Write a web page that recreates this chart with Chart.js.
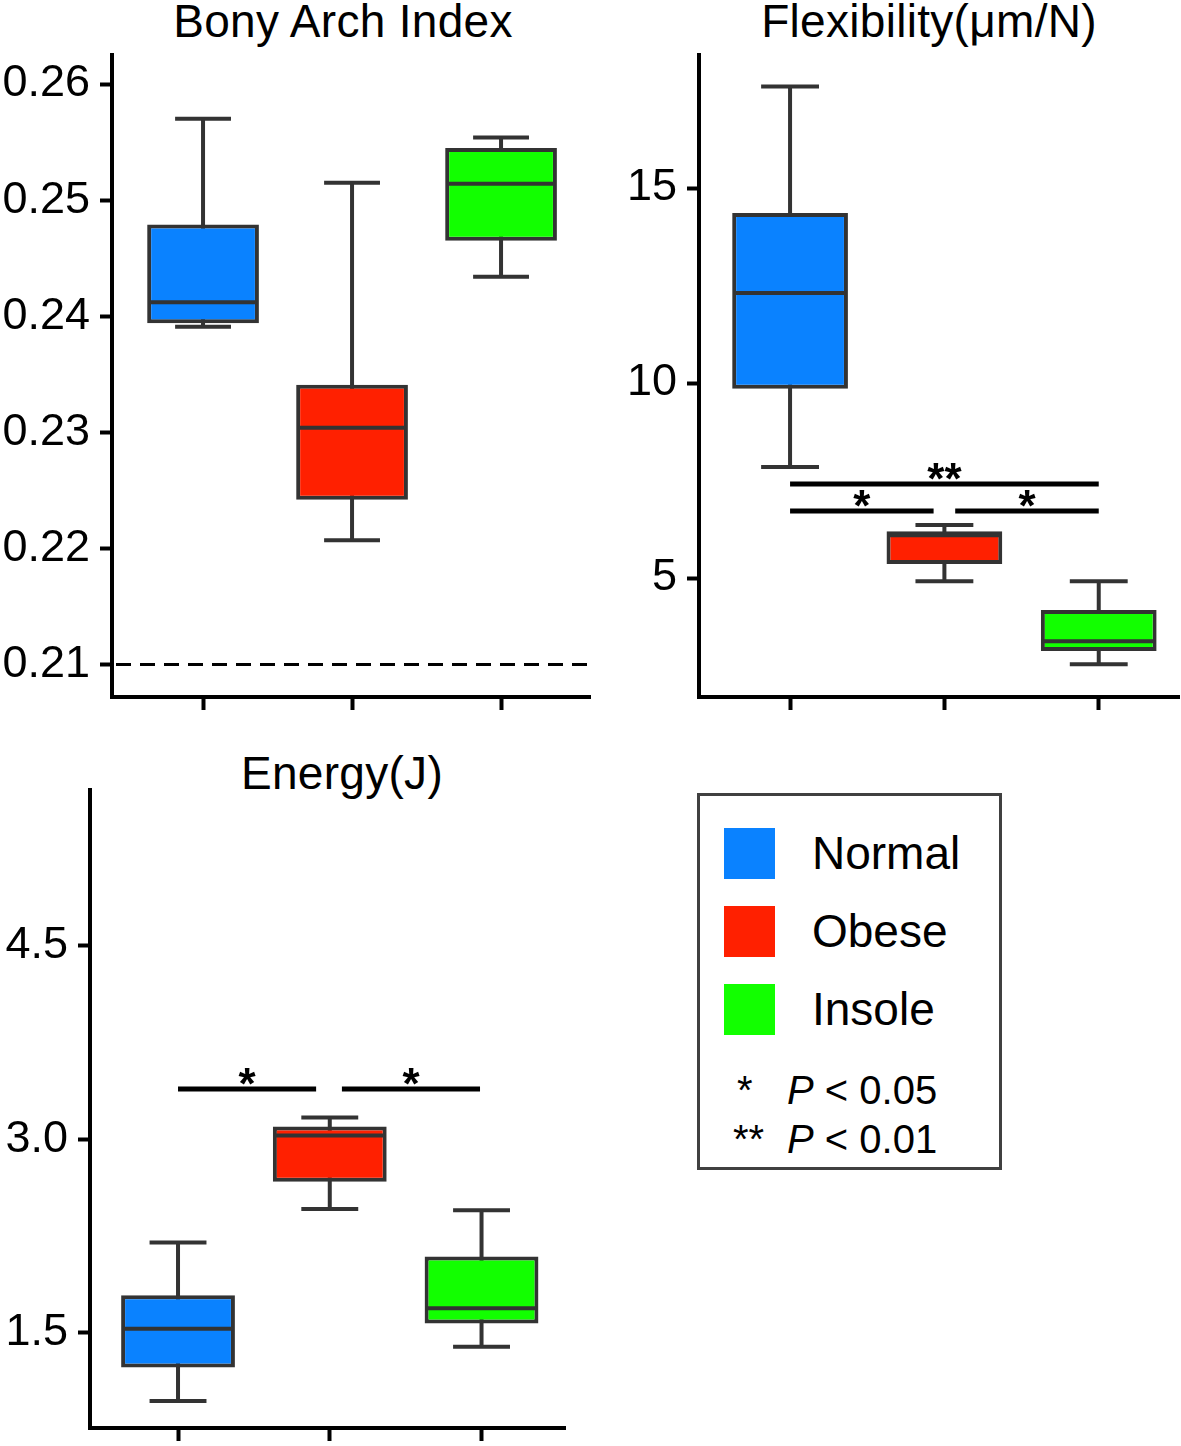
<!DOCTYPE html>
<html>
<head>
<meta charset="utf-8">
<script src="https://cdn.jsdelivr.net/npm/chart.js@4.4.1/dist/chart.umd.min.js"></script>
<style>
    html, body { margin: 0; padding: 0; width: 1181px; height: 1446px; overflow: hidden; background: #fff; }
    body { position: relative; font-family: 'Liberation Sans', Arial, sans-serif; color: #000; }
    canvas { position: absolute; }
    .title { position: absolute; font-size: 46px; letter-spacing: 0.3px; line-height: 46px; white-space: nowrap; transform: translateX(-50%); }
    #legend { position: absolute; left: 697px; top: 793px; width: 299px; height: 371px; border: 3px solid #404040; }
    .item { position: absolute; left: 24px; height: 51px; }
    .swatch { position: absolute; left: 0; top: 0; width: 51px; height: 51px; }
    .item span { position: absolute; left: 88px; top: 0; line-height: 51px; font-size: 46px; }
    .pnote { position: absolute; font-size: 40px; line-height: 40px; white-space: nowrap; }
    .pnote b { font-weight: normal; position: absolute; }
</style>
</head>
<body>
<div class="title" style="left:343px; top:-2px;">Bony Arch Index</div>
<div class="title" style="left:929px; top:-2px;">Flexibility(μm/N)</div>
<div class="title" style="left:342px; top:750px;">Energy(J)</div>

<canvas id="bony" width="594" height="722" style="left:0px; top:15px;"></canvas>
<canvas id="flex" width="581" height="722" style="left:600px; top:15px;"></canvas>
<canvas id="energy" width="568" height="718" style="left:0px; top:750px;"></canvas>

<div id="legend"></div>

<script>
// groups
const groups = ['Normal', 'Obese', 'Insole'];
const groupColors = ['#0a82ff', '#ff2000', '#12ff00'];

// Bony Arch Index
const biMin = [0.2391, 0.2207, 0.2434];
const biQ1 = [0.2394, 0.2242, 0.2465];
const biMed = [0.2412, 0.2304, 0.2514];
const biQ3 = [0.2479, 0.2341, 0.2545];
const biMax = [0.2570, 0.2515, 0.2554];
const biTicks = [0.21, 0.22, 0.23, 0.24, 0.25, 0.26];
const biRange = [0.2072, 0.2625];
const biRefLine = 0.21;

// Flexibility (um/N)
const fxMin = [7.85, 4.92, 2.79];
const fxQ1 = [9.85, 5.36, 3.13];
const fxMed = [12.31, 6.10, 3.38];
const fxQ3 = [14.36, 6.20, 4.18];
const fxMax = [17.6, 6.36, 4.92];
const fxTicks = [5, 10, 15];
const fxRange = [1.95, 18.41];
const fxSig = [
    { from: 1, to: 3, y: 7.41, label: '**' },
    { from: 1, to: 1.93, y: 6.72, label: '*' },
    { from: 2.07, to: 3, y: 6.72, label: '*' }
];

// Energy (J)
const enMin = [0.97, 2.46, 1.39];
const enQ1 = [1.23, 2.67, 1.57];
const enMed = [1.53, 3.03, 1.69];
const enQ3 = [1.79, 3.10, 2.09];
const enMax = [2.20, 3.17, 2.45];
const enTicks = [1.5, 3.0, 4.5];
const enRange = [0.76, 5.71];
const enSig = [
    { from: 1, to: 1.91, y: 3.39, label: '*' },
    { from: 2.08, to: 2.99, y: 3.39, label: '*' }
];

const FONT = "'Liberation Sans', Arial, sans-serif";
Chart.defaults.animation = false;

function boxPlugin(stats) {
    return {
        id: 'boxes',
        beforeDatasetsDraw(chart) {
            const { ctx, scales: { y } } = chart;
            const meta = chart.getDatasetMeta(0);
            ctx.save();
            ctx.strokeStyle = '#333333';
            ctx.lineWidth = 4;
            stats.lo.forEach((lo, i) => {
                const bar = meta.data[i];
                const cx = bar.x;
                const half = bar.width / 4;
                const yLo = y.getPixelForValue(lo);
                const yHi = y.getPixelForValue(stats.hi[i]);
                ctx.beginPath();
                ctx.moveTo(cx, yLo); ctx.lineTo(cx, yHi);
                ctx.moveTo(cx - half, yLo); ctx.lineTo(cx + half, yLo);
                ctx.moveTo(cx - half, yHi); ctx.lineTo(cx + half, yHi);
                ctx.stroke();
            });
            ctx.restore();
        },
        afterDatasetsDraw(chart) {
            const { ctx, chartArea, scales: { x, y } } = chart;
            const meta = chart.getDatasetMeta(0);
            ctx.save();
            // medians
            ctx.strokeStyle = '#333333';
            ctx.lineWidth = 4;
            stats.med.forEach((m, i) => {
                const bar = meta.data[i];
                const py = y.getPixelForValue(m);
                ctx.beginPath();
                ctx.moveTo(bar.x - bar.width / 2 + 2, py);
                ctx.lineTo(bar.x + bar.width / 2 - 2, py);
                ctx.stroke();
            });
            // dashed reference line
            if (stats.ref !== undefined) {
                const py = y.getPixelForValue(stats.ref);
                ctx.strokeStyle = '#000';
                ctx.lineWidth = 3;
                ctx.setLineDash([15, 9]);
                ctx.beginPath();
                ctx.moveTo(chartArea.left + 4, py);
                ctx.lineTo(chartArea.right, py);
                ctx.stroke();
                ctx.setLineDash([]);
            }
            // significance bars
            (stats.sig || []).forEach(s => {
                const x0 = x.getPixelForValue(s.from);
                const x1 = x.getPixelForValue(s.to);
                const py = y.getPixelForValue(s.y);
                ctx.strokeStyle = '#000';
                ctx.lineWidth = 5;
                ctx.beginPath();
                ctx.moveTo(x0, py);
                ctx.lineTo(x1, py);
                ctx.stroke();
                ctx.fillStyle = '#000';
                ctx.font = 'bold 44px ' + FONT;
                ctx.textAlign = 'center';
                ctx.textBaseline = 'alphabetic';
                ctx.fillText(s.label, (x0 + x1) / 2, py + 10);
            });
            ctx.restore();
        }
    };
}

function makePanel(id, p) {
    const ctx = document.getElementById(id).getContext('2d');
    return new Chart(ctx, {
        type: 'bar',
        data: {
            datasets: [{
                data: p.q1.map((v, i) => ({ x: i + 1, y: [v, p.q3[i]] })),
                backgroundColor: groupColors,
                borderColor: '#333333',
                borderWidth: 4,
                borderSkipped: false,
                barPercentage: 0.75,
                categoryPercentage: 1
            }]
        },
        options: {
            responsive: false,
            layout: { padding: { top: 40, right: p.padRight, bottom: 0, left: 0 } },
            plugins: { legend: { display: false }, tooltip: { enabled: false }, title: { display: false } },
            scales: {
                x: {
                    type: 'linear',
                    offset: false,
                    min: p.xRange[0],
                    max: p.xRange[1],
                    afterBuildTicks: axis => { axis.ticks = [1, 2, 3].map(v => ({ value: v })); },
                    afterFit: axis => { axis.height = 40; },
                    ticks: { display: false },
                    grid: { offset: false, drawOnChartArea: false, drawTicks: true, tickLength: 13, tickWidth: 4, tickColor: '#000' },
                    border: { display: true, color: '#000', width: 4 }
                },
                y: {
                    min: p.range[0],
                    max: p.range[1],
                    afterBuildTicks: axis => { axis.ticks = p.ticks.map(v => ({ value: v })); },
                    afterFit: axis => { axis.width = p.yWidth; },
                    ticks: {
                        color: '#000',
                        padding: 10,
                        font: { family: FONT, size: 45 },
                        callback: v => v.toFixed(p.decimals)
                    },
                    grid: { drawOnChartArea: false, drawTicks: true, tickLength: 12, tickWidth: 4, tickColor: '#000' },
                    border: { display: true, color: '#000', width: 4 }
                }
            }
        },
        plugins: [boxPlugin({ lo: p.min, hi: p.max, med: p.med, ref: p.ref, sig: p.sig })]
    });
}

makePanel('bony', {
    min: biMin, q1: biQ1, med: biMed, q3: biQ3, max: biMax,
    ticks: biTicks, range: biRange, decimals: 2, ref: biRefLine,
    xRange: [0.389, 3.597], yWidth: 112, padRight: 4
});

makePanel('flex', {
    min: fxMin, q1: fxQ1, med: fxMed, q3: fxQ3, max: fxMax,
    ticks: fxTicks, range: fxRange, decimals: 0, sig: fxSig,
    xRange: [0.41, 3.52], yWidth: 99, padRight: 2
});

makePanel('energy', {
    min: enMin, q1: enQ1, med: enMed, q3: enQ3, max: enMax,
    ticks: enTicks, range: enRange, decimals: 1, sig: enSig,
    xRange: [0.42, 3.55], yWidth: 90, padRight: 3
});

// legend box
const legend = document.getElementById('legend');
const itemTops = [32, 110, 188];
groups.forEach((g, i) => {
    const item = document.createElement('div');
    item.className = 'item';
    item.style.top = itemTops[i] + 'px';
    item.innerHTML = '<div class="swatch" style="background:' + groupColors[i] + '"></div><span>' + g + '</span>';
    legend.appendChild(item);
});
const notes = [['*', 'P', ' < 0.05', 274], ['**', 'P', ' < 0.01', 323]];
notes.forEach(n => {
    const d = document.createElement('div');
    d.className = 'pnote';
    d.style.top = n[3] + 'px';
    d.style.left = '0px';
    d.innerHTML = '<b style="left:' + (n[0] === '*' ? 37 : 33) + 'px">' + n[0] + '</b>' +
        '<span style="position:absolute; left:87px;"><i>' + n[1] + '</i>' + n[2] + '</span>';
    legend.appendChild(d);
});
</script>
</body>
</html>
